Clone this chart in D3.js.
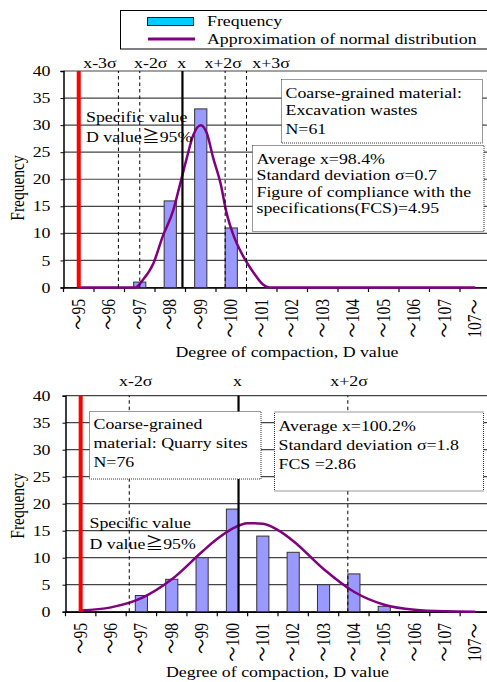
<!DOCTYPE html>
<html>
<head>
<meta charset="utf-8">
<script src="https://cdn.jsdelivr.net/npm/d3@7"></script>
<style>
  body { margin: 0; background: #fff; }
  svg { display: block; font-family: "Liberation Serif", "Noto Sans CJK JP", serif; }
</style>
</head>
<body>
<div id="chart"></div>
<script>
// categories of the histogram (degree of compaction, D value)
var categories = ["～95", "～96", "～97", "～98", "～99", "～100", "～101", "～102", "～103", "～104", "～105", "～106", "～107", "107～"];
var yTicks = [0, 5, 10, 15, 20, 25, 30, 35, 40];

// upper chart: excavation wastes
var topFreq = [0, 0, 1, 16, 33, 11, 0, 0, 0, 0, 0, 0, 0, 0];
var topCurveX = [95, 96, 96.5, 96.85, 97.1, 97.45, 97.75, 98.1, 98.3, 98.55, 98.75, 99.0, 99.2, 99.4, 99.65, 99.85, 100.05, 100.4, 100.75, 101.05, 101.25, 102, 103, 104, 105, 106, 107, 108];
var topCurveY = [0, 0, 0, 0, 1.4, 4.5, 9.4, 14.3, 18.6, 24.1, 28.1, 30.0, 28.5, 24.1, 19.2, 13.7, 10.0, 5.7, 2.6, 0.5, 0, 0, 0, 0, 0, 0, 0, 0];
var topMean = 98.4, topSd = 0.7;
var topSigmaK = [-3, -2, 0, 2, 3];
var topSigmaLabels = ["x-3σ", "x-2σ", "x", "x+2σ", "x+3σ"];

// lower chart: quarry sites
var bottomFreq = [0, 0, 3, 6, 10, 19, 14, 11, 5, 7, 1, 0, 0, 0];
var bottomCurveX = [95, 96, 97, 98, 99, 99.5, 100, 100.5, 101, 101.5, 102, 103, 104, 105, 106, 107, 108];
var bottomCurveY = [0.2, 0.8, 2.5, 6.0, 11.1, 13.5, 15.4, 16.4, 16.3, 15.1, 13.1, 7.9, 3.7, 1.3, 0.35, 0.07, 0];
var bottomMean = 100.2, bottomSd = 1.8;
var bottomSigmaK = [-2, 0, 2];
var bottomSigmaLabels = ["x-2σ", "x", "x+2σ"];

var specLimit = 95;

var W = 487, H = 682;
var SX = 1.15;      // glyphs in the picture are a bit wider than tall
var FS = 15.5;

var svg = d3.select("#chart").append("svg")
  .attr("width", W).attr("height", H)
  .style("font-size", FS + "px");

function label(g, s, x, y, anchor, dy, rot) {
  return g.append("text")
    .attr("transform", "translate(" + x + "," + y + ") scale(" + SX + ",1)" + (rot ? " rotate(-90)" : ""))
    .attr("text-anchor", anchor || "start")
    .attr("dy", dy || 0)
    .attr("fill", "#000")
    .text(s);
}

// legend
var lg = svg.append("g");
lg.append("rect").attr("x", 120.5).attr("y", 10.5).attr("width", 380).attr("height", 38.5)
  .attr("fill", "#fff").attr("stroke", "#000").attr("stroke-width", 1);
lg.append("rect").attr("x", 147.5).attr("y", 17.5).attr("width", 46).attr("height", 8)
  .attr("fill", "#00ccff").attr("stroke", "#222").attr("stroke-width", 1);
lg.append("line").attr("x1", 148).attr("x2", 195).attr("y1", 39).attr("y2", 39)
  .attr("stroke", "#800080").attr("stroke-width", 3);
label(lg, "Frequency", 207, 26);
label(lg, "Approximation of normal distribution", 207, 43.5);

function panel(cfg) {
  var g = svg.append("g");
  var x = d3.scaleBand().domain(categories).range([cfg.x0, cfg.x1]);
  var xv = d3.scaleLinear().domain([95, 108])
    .range([x(categories[0]) + x.bandwidth() / 2, x(categories[13]) + x.bandwidth() / 2]);
  var y = d3.scaleLinear().domain([0, 40]).range([cfg.y0, cfg.y40]);
  var bw = x.bandwidth() * 0.4;

  // grid
  g.selectAll(".grid").data(yTicks).enter().append("line")
    .attr("x1", cfg.x0).attr("x2", cfg.x1)
    .attr("y1", function(d) { return y(d); }).attr("y2", function(d) { return y(d); })
    .attr("stroke", "#444").attr("stroke-width", 1.2);

  // y axis
  var ya = g.append("g").attr("transform", "translate(" + cfg.x0 + ",0)")
    .call(d3.axisLeft(y).tickValues(yTicks).tickSize(3).tickFormat(""));
  ya.select(".domain").attr("stroke", "#000").attr("stroke-width", 1.5);
  yTicks.forEach(function(t) { label(g, t, 50.5, y(t), "end", "0.33em"); });

  // x axis with ticks at band edges
  var xa = g.append("g").attr("transform", "translate(0," + cfg.y0 + ")")
    .call(d3.axisBottom(x).tickSize(0).tickFormat(""));
  xa.select(".domain").attr("stroke", "#000").attr("stroke-width", 1.5);
  xa.selectAll(".edge").data(d3.range(categories.length + 1)).enter().append("line")
    .attr("x1", function(i) { return cfg.x0 + i * x.step(); })
    .attr("x2", function(i) { return cfg.x0 + i * x.step(); })
    .attr("y1", 0).attr("y2", 4.5).attr("stroke", "#000").attr("stroke-width", 1.2);
  categories.forEach(function(c) {
    label(g, c, x(c) + x.bandwidth() / 2, cfg.tickY, "end", "0.34em", true);
  });

  // bars
  var bars = categories.map(function(c, i) { return { cat: c, n: cfg.freq[i] }; })
    .filter(function(d) { return d.n > 0; });
  g.selectAll(".bar").data(bars).enter().append("rect")
    .attr("x", function(d) { return x(d.cat) + x.bandwidth() / 2 - bw / 2; })
    .attr("width", bw)
    .attr("y", function(d) { return y(d.n); })
    .attr("height", function(d) { return y(0) - y(d.n); })
    .attr("fill", "#9999ff").attr("stroke", "#333").attr("stroke-width", 1);

  // normal distribution approximation
  var pts = cfg.curveX.map(function(v, i) { return [v, cfg.curveY[i]]; });
  g.append("path")
    .attr("d", d3.line().x(function(d) { return xv(d[0]); }).y(function(d) { return y(d[1]); })
      .curve(d3.curveMonotoneX)(pts))
    .attr("fill", "none").attr("stroke", "#800080").attr("stroke-width", 2.5);

  // specified value line
  g.append("line").attr("x1", xv(specLimit)).attr("x2", xv(specLimit))
    .attr("y1", y(0)).attr("y2", y(40)).attr("stroke", "#ff0000").attr("stroke-width", 4);

  // mean and sigma lines
  cfg.ks.forEach(function(k, i) {
    var px = xv(cfg.mean + k * cfg.sd);
    g.append("line").attr("x1", px).attr("x2", px).attr("y1", y(0)).attr("y2", y(40))
      .attr("stroke", "#000").attr("stroke-width", k === 0 ? 2.2 : 1)
      .attr("stroke-dasharray", k === 0 ? null : "3.5,3");
    label(g, cfg.sigmaLabels[i], px + cfg.labelDx[i], cfg.sigmaY, "middle");
  });

  // note boxes
  cfg.boxes.forEach(function(b) {
    g.append("rect").attr("x", b.x).attr("y", b.y).attr("width", b.w).attr("height", b.h)
      .attr("fill", "#fff").attr("stroke", "#333").attr("stroke-width", 1)
      .attr("stroke-dasharray", "1,1");
    b.lines.forEach(function(s, j) { label(g, s, b.x + 4, b.base[j]); });
  });

  label(g, "Specific value", cfg.specX, cfg.specY[0]);
  label(g, "D value≧95%", cfg.specX, cfg.specY[1]);

  label(g, "Degree of compaction, D value", cfg.titleX, cfg.titleY, "middle");
  label(g, "Frequency", 18, cfg.yTitleY, "middle", "0.35em", true);
}

panel({
  x0: 63.5, x1: 490.5, y0: 287.5, y40: 71,
  freq: topFreq, curveX: topCurveX, curveY: topCurveY,
  mean: topMean, sd: topSd, ks: topSigmaK, sigmaLabels: topSigmaLabels,
  labelDx: [-18.5, 11, -0.8, -2, 24.5], sigmaY: 67.5,
  tickY: 299,
  boxes: [
    { x: 281.5, y: 79.5, w: 201, h: 63.5,
      lines: ["Coarse-grained material:", "Excavation wastes", "N=61"], base: [97.5, 115, 133.5] },
    { x: 252.5, y: 145.5, w: 231.5, h: 86,
      lines: ["Average x=98.4%", "Standard deviation σ=0.7", "Figure of compliance with the", "specifications(FCS)=4.95"],
      base: [163.5, 180, 196.5, 212.5] }
  ],
  specX: 86, specY: [122, 141.5],
  titleX: 287, titleY: 357, yTitleY: 188
});

panel({
  x0: 65.5, x1: 490.5, y0: 611.7, y40: 395.7,
  freq: bottomFreq, curveX: bottomCurveX, curveY: bottomCurveY,
  mean: bottomMean, sd: bottomSd, ks: bottomSigmaK, sigmaLabels: bottomSigmaLabels,
  labelDx: [6.5, -1, 1.2], sigmaY: 385.5,
  tickY: 623,
  boxes: [
    { x: 89.5, y: 411.5, w: 171.5, h: 67.5,
      lines: ["Coarse-grained", "material: Quarry sites", "N=76"], base: [428.5, 447.5, 466.5] },
    { x: 274.5, y: 412, w: 209, h: 79,
      lines: ["Average x=100.2%", "Standard deviation σ=1.8", "FCS =2.86"], base: [430.5, 449.5, 469] }
  ],
  specX: 89.5, specY: [527.5, 548.5],
  titleX: 277.5, titleY: 677, yTitleY: 506
});
</script>
</body>
</html>
